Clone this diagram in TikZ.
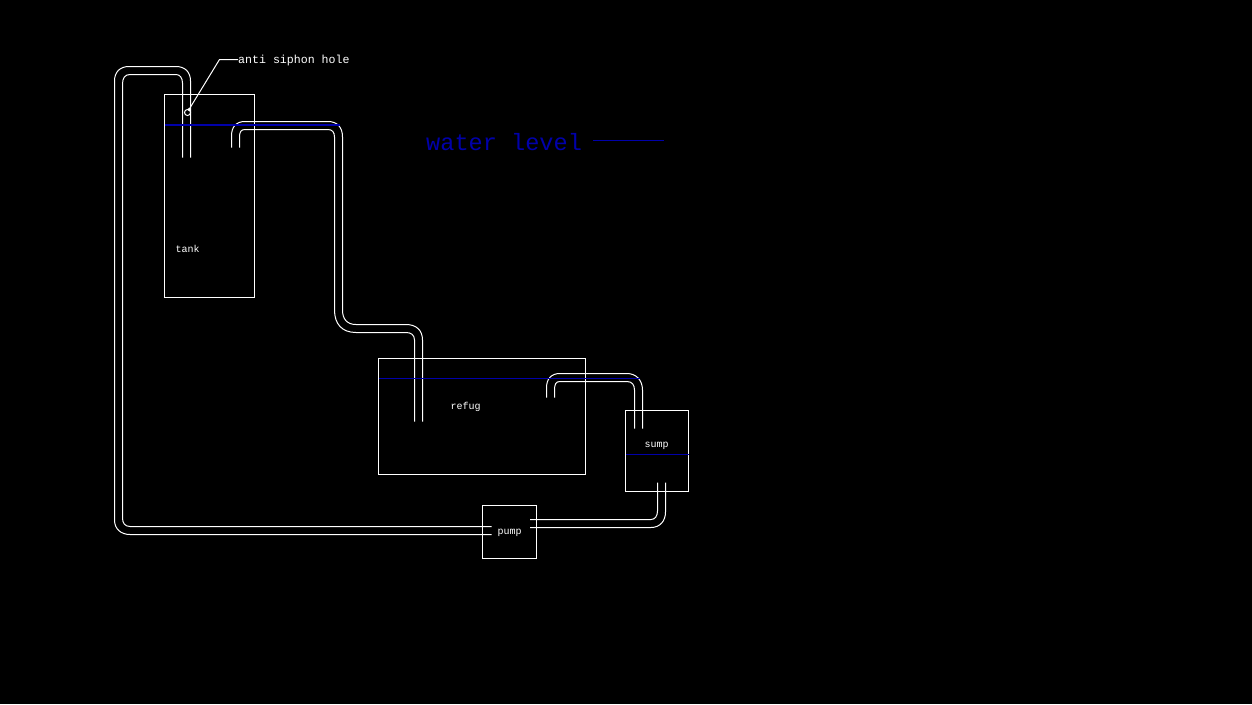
\documentclass[tikz,border=0pt]{standalone}
\usepackage{fontspec}
\setmonofont{Liberation Mono}
\definecolor{wblue}{RGB}{0,0,170}
\tikzset{
  x=1pt,y=-1pt,
  vessel/.style={draw=white,line width=1pt,inner sep=0pt,outer sep=0pt,fill=none},
  pipeline/.style={draw=white,line width=1pt},
  waterline/.style={draw=wblue,line width=1pt},
  smalllabel/.style={text=white,inner sep=0pt,anchor=base,font=\fontsize{10}{12}\ttfamily},
  notelabel/.style={text=white,inner sep=0pt,anchor=base west,font=\fontsize{11.6}{14}\ttfamily},
  biglabel/.style={text=wblue,inner sep=0pt,anchor=base west,font=\fontsize{23.6}{28}\ttfamily},
}
\begin{document}
\begin{tikzpicture}
\useasboundingbox[fill=black] (0,0) rectangle (1252,704);
% vessels
\node[vessel,minimum width=90pt,minimum height=203pt] (tank) at (209.5,196) {};
\node[vessel,minimum width=207pt,minimum height=116pt] (refug) at (482,416.5) {};
\node[vessel,minimum width=63pt,minimum height=81pt] (sump) at (657,451) {};
\node[vessel,minimum width=54pt,minimum height=53pt] (pump) at (509.5,532) {};
% labels
\node[smalllabel] (tanklabel) at (187.5,252) {tank};
\node[smalllabel] (refuglabel) at (465.5,409) {refug};
\node[smalllabel] (sumplabel) at (656.5,447) {sump};
\node[smalllabel] (pumplabel) at (509.5,534) {pump};
\node[notelabel] (holelabel) at (238,63.5) {anti siphon hole};
\node[biglabel] (levellabel) at (426,150) {water level};
% pipe from pump up to the tank
\coordinate (p1a) at (491.5,534.5); \coordinate (p1b) at (491.5,526.5);
\coordinate (p1c) at (190.5,157.5); \coordinate (p1d) at (182.5,157.5);
\draw[pipeline] (p1a) -- (130,534.5) .. controls (121,534.5) and (114.5,529) .. (114.5,520)
  -- (114.5,81) .. controls (114.5,72) and (120,66.5) .. (129,66.5)
  -- (176,66.5) .. controls (185,66.5) and (190.5,72) .. (190.5,81) -- (p1c);
\draw[pipeline] (p1b) -- (130,526.5) .. controls (125,526.5) and (122.5,523) .. (122.5,518)
  -- (122.5,84) .. controls (122.5,78) and (125,74.5) .. (130,74.5)
  -- (176,74.5) .. controls (180,74.5) and (182.5,78) .. (182.5,83) -- (p1d);
% pipe from tank to refug
\coordinate (p2a) at (231.5,147.5); \coordinate (p2b) at (239.5,147.5);
\coordinate (p2c) at (422.5,421.5); \coordinate (p2d) at (414.5,421.5);
\draw[pipeline] (p2a) -- (231.5,136) .. controls (231.5,127) and (236,121.5) .. (245,121.5)
  -- (328,121.5) .. controls (337,121.5) and (342.5,127) .. (342.5,137)
  -- (342.5,310) .. controls (342.5,319) and (347,324.5) .. (356,324.5)
  -- (406,324.5) .. controls (416,324.5) and (422.5,330) .. (422.5,340) -- (p2c);
\draw[pipeline] (p2b) -- (239.5,137) .. controls (239.5,132) and (241,129.5) .. (245,129.5)
  -- (328,129.5) .. controls (332,129.5) and (334.5,132) .. (334.5,137)
  -- (334.5,310) .. controls (334.5,324) and (342,332.5) .. (356,332.5)
  -- (406,332.5) .. controls (411,332.5) and (414.5,335) .. (414.5,340) -- (p2d);
% pipe from refug to sump
\coordinate (p3a) at (546.5,397.5); \coordinate (p3b) at (554.5,397.5);
\coordinate (p3c) at (642.5,428.5); \coordinate (p3d) at (634.5,428.5);
\draw[pipeline] (p3a) -- (546.5,388) .. controls (546.5,379) and (551,373.5) .. (560,373.5)
  -- (627,373.5) .. controls (636,373.5) and (642.5,380) .. (642.5,390) -- (p3c);
\draw[pipeline] (p3b) -- (554.5,390) .. controls (554.5,384) and (556,381.5) .. (560,381.5)
  -- (627,381.5) .. controls (632,381.5) and (634.5,385) .. (634.5,390) -- (p3d);
% pipe from sump to pump
\coordinate (p4a) at (657.5,482.5); \coordinate (p4b) at (665.5,482.5);
\coordinate (p4c) at (530,519.5); \coordinate (p4d) at (530,527.5);
\draw[pipeline] (p4a) -- (657.5,511) .. controls (657.5,516) and (655,519.5) .. (651,519.5) -- (p4c);
\draw[pipeline] (p4b) -- (665.5,512) .. controls (665.5,521) and (660,527.5) .. (651,527.5) -- (p4d);
% water levels
\coordinate (wcc) at (379,378.5); \coordinate (wdd) at (640,378.5);
\coordinate (wee) at (626,454.5); \coordinate (wff) at (689,454.5);
\coordinate (wgg) at (593,140.5); \coordinate (whh) at (664,140.5);
\coordinate (waa) at (165,125); \coordinate (wbb) at (340,125);
\draw[waterline] (wcc) -- (wdd);
\draw[waterline] (wee) -- (wff);
\draw[waterline] (wgg) -- (whh);
\draw[waterline,line width=1.6pt] (waa) -- (wbb);
% anti siphon hole and its leader
\node[draw=white,line width=1pt,circle,inner sep=0pt,minimum size=6pt] (hole) at (187.5,112.5) {};
\coordinate (elbow) at (219.5,59.5);
\coordinate (holetip) at (189,109.5);
\coordinate (holelead) at (238,59.5);
\draw[pipeline] (holelead) -- (elbow) -- (holetip);
\fill[white] (holetip) circle (1.6);
\end{tikzpicture}
\end{document}
